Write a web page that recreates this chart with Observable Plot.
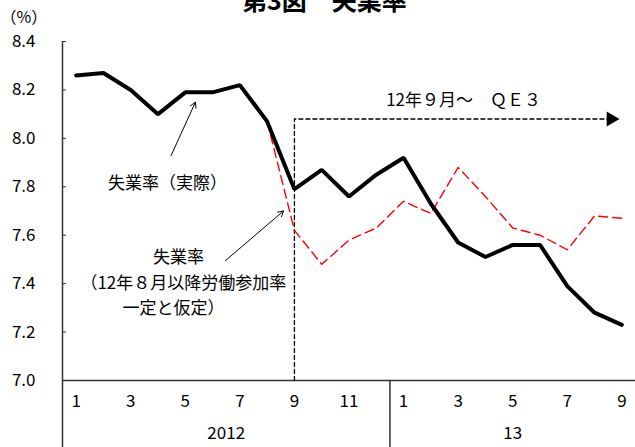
<!DOCTYPE html>
<html><head><meta charset="utf-8">
<script src="https://cdn.jsdelivr.net/npm/d3@7"></script>
<script src="https://cdn.jsdelivr.net/npm/@observablehq/plot@0.6"></script>
<style>
body{margin:0;background:#fff;}
#wrap{position:relative;width:635px;height:447px;overflow:hidden;background:#fff;}
#title{position:absolute;left:242px;top:-13px;white-space:nowrap;font:bold 25px "Noto Sans CJK JP",sans-serif;line-height:25px;color:#000;}
#chart{position:absolute;left:0;top:0;}
</style></head>
<body>
<div id="wrap"><div id="chart"></div><div id="title">第3図　失業率</div></div>
<script>
const monthLabels = ["1","2","3","4","5","6","7","8","9","10","11","12","1","2","3","4","5","6","7","8","9"];
const yearLabels = ["2012","13"];
const yearCenters = [5.5, 16];
const actual = [8.26,8.27,8.20,8.10,8.19,8.19,8.22,8.07,7.79,7.87,7.76,7.85,7.92,7.73,7.57,7.51,7.56,7.56,7.39,7.28,7.23];
const assumed = [null,null,null,null,null,null,null,8.07,7.62,7.48,7.58,7.63,7.74,7.69,7.88,7.76,7.63,7.60,7.54,7.68,7.67];
const yTicks = [7.0,7.2,7.4,7.6,7.8,8.0,8.2,8.4];
const xTicks = [0,2,4,6,8,10,12,14,16,18,20];
const qe3Text = "12年９月～　ＱＥ３";
const qe3Path = [[8,7.0],[8,8.08],[19.7,8.08]];
const qe3Head = [[19.6,8.08]];
const labels = [
  {x:3.35, y:7.813, text:"失業率（実際）"},
  {x:3.75, y:7.507, text:"失業率"},
  {x:3.93, y:7.40, text:"（12年８月以降労働参加率"},
  {x:3.57, y:7.297, text:"一定と仮定）"},
  {x:14.2, y:8.156, text:qe3Text}
];
const arrows = [
  {x1:3.48, y1:7.929, x2:4.37, y2:8.149},
  {x1:5.47, y1:7.495, x2:7.60, y2:7.70}
];
const axisLines = {left:-0.5, right:20.5, yearSep:11.5, bottomExt:6.72};

const actualData = actual.map((v,i)=>({i, v}));
const assumedData = assumed.map((v,i)=>({i, v})).filter(d=>d.v!=null);

const chart = Plot.plot({
  width:635, height:447,
  marginLeft:62, marginRight:0, marginTop:41, marginBottom:67,
  style:{fontFamily:'"Noto Sans CJK JP", sans-serif', fontSize:"17px", color:"#000", background:"#fff"},
  x:{type:"linear", domain:[-0.5,20.5], axis:null},
  y:{domain:[7.0,8.4], axis:null},
  marks:[
    Plot.axisY({ticks:yTicks, tickFormat:d=>d.toFixed(1), tickSize:-4, tickPadding:31, stroke:"#333", fontSize:17}),
    Plot.axisX({ticks:xTicks, tickFormat:i=>monthLabels[i], tickSize:0, tickPadding:14, anchor:"bottom", fontSize:17}),
    Plot.axisX({ticks:yearCenters, tickFormat:(d,k)=>yearLabels[k], tickSize:0, tickPadding:46, anchor:"bottom", fontSize:17}),
    Plot.ruleY([7.0], {x1:axisLines.left, x2:axisLines.right, stroke:"#333", strokeWidth:1.5}),
    Plot.ruleX([axisLines.left], {y1:axisLines.bottomExt, y2:8.4, stroke:"#333", strokeWidth:1.5}),
    Plot.ruleX([axisLines.yearSep], {y1:axisLines.bottomExt, y2:7.0, stroke:"#333", strokeWidth:1.5}),
    Plot.line(qe3Path, {x:d=>d[0], y:d=>d[1], stroke:"#000", strokeWidth:1.3, strokeDasharray:"4,3"}),
    Plot.dot(qe3Head, {x:d=>d[0], y:d=>d[1], symbol:"triangle", rotate:90, r:5.5, fill:"#000", stroke:"none"}),
    Plot.line(assumedData, {x:"i", y:"v", stroke:"#ff0000", strokeWidth:1.4, strokeDasharray:"9,5"}),
    Plot.line(actualData, {x:"i", y:"v", stroke:"#000", strokeWidth:4, strokeLinejoin:"miter"}),
    Plot.arrow(arrows, {x1:"x1", y1:"y1", x2:"x2", y2:"y2", stroke:"#000", strokeWidth:1, headLength:9, bend:0}),
    Plot.text(labels, {x:"x", y:"y", text:"text", fontSize:17, fill:"#000"}),
    Plot.text(["（%）"], {frameAnchor:"top-left", dx:-62, dy:-30, fontSize:16, textAnchor:"start", fill:"#000"})
  ]
});
document.getElementById("chart").appendChild(chart);
</script>
</body></html>
